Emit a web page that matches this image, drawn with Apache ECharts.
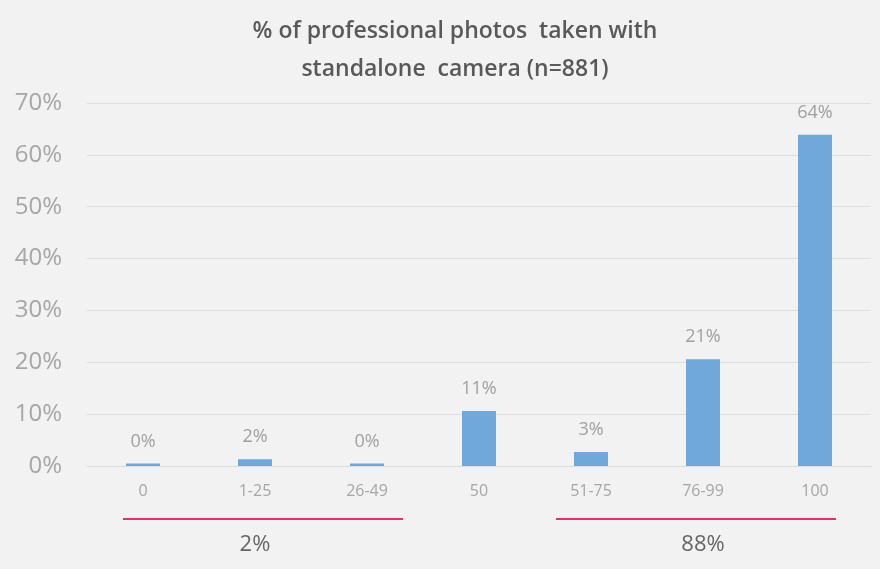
<!DOCTYPE html>
<html><head><meta charset="utf-8">
<script src="https://cdn.jsdelivr.net/npm/echarts@6/dist/echarts.min.js"></script>
<style>html,body{margin:0;padding:0;background:#f2f2f2;}#c{width:880px;height:569px;}</style>
</head><body><div id="c"></div>
<script>
const titleText = "% of professional photos  taken with\nstandalone  camera (n=881)";
const categories = ["0","1-25","26-49","50","51-75","76-99","100"];
const values = [0.5, 1.3, 0.5, 10.6, 2.7, 20.6, 63.9];
const valueLabels = ["0%","2%","0%","11%","3%","21%","64%"];
const groupLabels = ["2%","88%"];
const groupStart = [0, 4];
const groupEnd = [2, 6];

const chart = echarts.init(document.getElementById('c'), null, {renderer:'canvas'});
const ff = "'Open Sans', 'Noto Sans', sans-serif";
chart.setOption({
  backgroundColor: '#f2f2f2',
  animation: false,
  title: {
    text: titleText, left: 450, textAlign: 'center', top: 7,
    textStyle: {fontFamily: ff, fontSize: 23, fontWeight: 600, color: '#595959', lineHeight: 38}
  },
  grid: {left: 87, right: 9, top: 103, bottom: 103},
  xAxis: {
    type: 'category', data: categories,
    axisLine: {lineStyle: {color: '#dcdcdc', width: 1}},
    axisTick: {show: false},
    axisLabel: {color: '#a6a6a6', fontSize: 16, fontFamily: ff, margin: 17}
  },
  yAxis: {
    type: 'value', min: 0, max: 70, interval: 10,
    axisLine: {show: false}, axisTick: {show: false},
    splitLine: {lineStyle: {color: '#dedede', width: 1}},
    axisLabel: {color: '#a6a6a6', fontSize: 24, fontFamily: ff, margin: 25, formatter: v => v + '%'}
  },
  series: [{
    type: 'bar', data: values, barWidth: 34,
    itemStyle: {color: '#70a8da'},
    label: {show: true, position: 'top', distance: 13, color: '#a0a0a0', fontSize: 18, fontFamily: ff,
      formatter: p => valueLabels[p.dataIndex]}
  }]
});

function drawGroups() {
  const g = [];
  const y0 = chart.convertToPixel({yAxisIndex: 0}, 0);
  for (let i = 0; i < groupLabels.length; i++) {
    const xs = chart.convertToPixel({xAxisIndex: 0}, categories[groupStart[i]]);
    const xe = chart.convertToPixel({xAxisIndex: 0}, categories[groupEnd[i]]);
    const x1 = xs - (i === 0 ? 20 : 35), x2 = xe + (i === 0 ? 36 : 21);
    g.push({type: 'line', shape: {x1: x1, y1: y0 + 53, x2: x2, y2: y0 + 53},
      style: {stroke: '#e2306c', lineWidth: 2}});
    g.push({type: 'text', x: (xs + xe) / 2, y: y0 + 79,
      style: {text: groupLabels[i], fill: '#666666', font: '22px ' + ff, textAlign: 'center', textVerticalAlign: 'middle'}});
  }
  chart.setOption({graphic: g});
}
drawGroups();
</script></body></html>
